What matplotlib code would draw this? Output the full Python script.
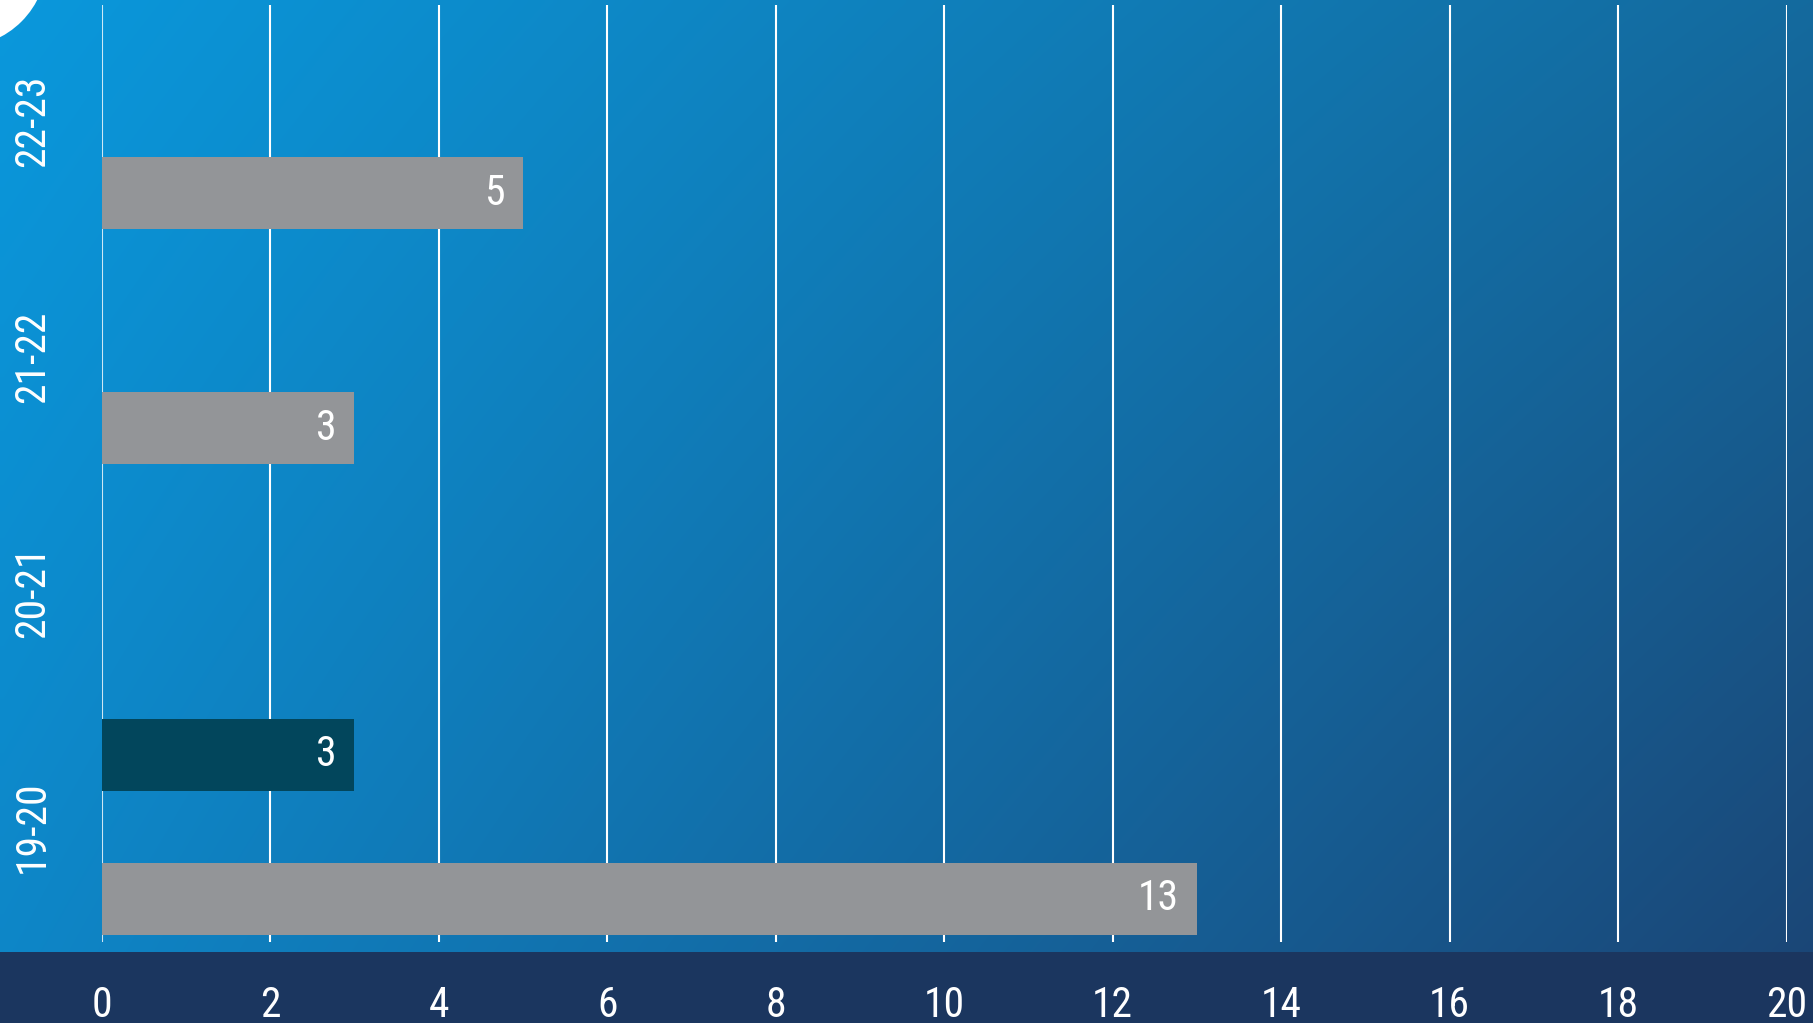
import matplotlib
matplotlib.use('Agg')
import matplotlib.pyplot as plt
import numpy as np
from matplotlib import font_manager as fm
from matplotlib.patches import Rectangle, Ellipse

# ---- data ----
seasons = ['19-20', '20-21', '21-22', '22-23']
series_gray = [13, 0, 3, 5]
series_dark = [3, 0, 0, 0]
x_ticks = [0, 2, 4, 6, 8, 10, 12, 14, 16, 18, 20]

# ---- font: prefer a condensed face if one is installed ----
def pick_font():
    best = None
    best_score = -1
    for f in fm.fontManager.ttflist:
        nm = f.name.lower()
        fn = f.fname.lower()
        cond = ('condensed' in nm or 'narrow' in nm or 'condensed' in fn or 'narrow' in fn
                or str(f.stretch) in ('condensed', 'semi-condensed', 'extra-condensed', 'ultra-condensed'))
        if not cond:
            continue
        if f.style != 'normal':
            continue
        w = f.weight if isinstance(f.weight, int) else 400
        if 'bold' in fn or 'light' in fn or 'thin' in fn or 'black' in fn or 'oblique' in fn or 'italic' in fn:
            continue
        score = 10
        if 'liberation' in fn:
            score += 5
        if 'roboto' in fn:
            score += 6
        if 'dejavu' in fn:
            score += 3
        score -= abs(w - 400) / 100
        if score > best_score:
            best_score = score
            best = f.fname
    return best

fpath = pick_font()
if fpath:
    FP = fm.FontProperties(fname=fpath)
else:
    FP = fm.FontProperties(family='DejaVu Sans')

W, H = 1813, 1023
fig = plt.figure(figsize=(W / 100, H / 100), dpi=100)

# background gradient (bilinear between corner colours)
bg = fig.add_axes([0, 0, 1, 1])
bg.axis('off')
tl = np.array([10, 152, 220]) / 255
tr = np.array([20, 106, 158]) / 255
bl = np.array([14, 133, 198]) / 255
br = np.array([27, 68, 116]) / 255
n = 256
u = np.linspace(0, 1, n)[None, :, None]
v = np.linspace(0, 1, n)[:, None, None]
img = (1 - v) * ((1 - u) * tl + u * tr) + v * ((1 - u) * bl + u * br)
bg.imshow(img, extent=[0, 1, 0, 1], aspect='auto', interpolation='bilinear', origin='upper')
bg.set_xlim(0, 1)
bg.set_ylim(0, 1)
band_top = 951.7
bg.add_patch(Rectangle((0, 0), 1, (H - band_top) / H, color='#1b365f', lw=0))
bg.add_patch(Ellipse((-40 / W, 1 + 40 / H), 2 * 87 / W, 2 * 87 / H, color='white', lw=0))

# main axes
x0, x20 = 101.7, 1786.7
ytop, ybot = 5, 942
ax = fig.add_axes([x0 / W, (H - ybot) / H, (x20 - x0) / W, (ybot - ytop) / H])
ax.patch.set_alpha(0)
for s in ax.spines.values():
    s.set_visible(False)
ax.set_xlim(0, 20)
ax.set_ylim(-0.489, 3.493)

for t in x_ticks:
    ax.axvline(t, color='white', lw=1.5, alpha=0.8 if t == 0 else 1.0, zorder=1)

pos = np.arange(len(seasons))
h = 0.306
bars_gray = ax.barh(pos - h, series_gray, height=h, color='#939598', zorder=2)
bars_dark = ax.barh(pos + h, series_dark, height=h, color='#02465c', zorder=2)

SIZE = 30
for bars, vals in ((bars_gray, series_gray), (bars_dark, series_dark)):
    for b, val in zip(bars, vals):
        if val:
            ax.annotate(str(val), (val, b.get_y() + b.get_height() / 2),
                        xytext=(-13, 0), textcoords='offset points',
                        ha='right', va='center', color='white',
                        fontproperties=FP, fontsize=SIZE, zorder=3)

ax.set_xticks(x_ticks)
ax.set_xticklabels([str(t) for t in x_ticks])
ax.tick_params(axis='x', length=0, pad=54, labelcolor='white')
for lab in ax.get_xticklabels():
    lab.set_fontproperties(FP)
    lab.set_fontsize(SIZE)
    lab.set_va('baseline')

ax.set_yticks(pos)
ax.set_yticklabels(seasons, rotation=90)
ax.tick_params(axis='y', length=0, pad=50, labelcolor='white')
for lab in ax.get_yticklabels():
    lab.set_fontproperties(FP)
    lab.set_fontsize(SIZE)
    lab.set_ha('center')
    lab.set_va('center')

fig.savefig('out.png', dpi=100)
